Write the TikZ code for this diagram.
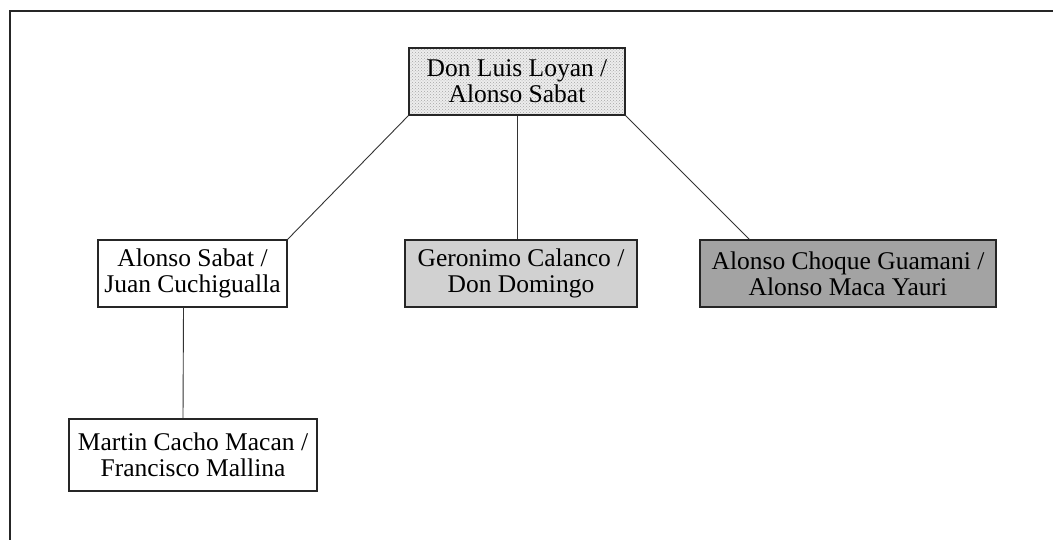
\documentclass[tikz,border=0pt]{standalone}
\usepackage{fontspec}
\setmainfont{Liberation Serif}
\usetikzlibrary{patterns}
\begin{document}
\begin{tikzpicture}[x=1pt,y=-1pt,
    person/.style={draw=black!85, line width=1.1pt, align=center,
      minimum height=67pt, inner sep=4pt,
      font=\fontsize{25.5pt}{26pt}\selectfont},
    speckled/.style={preaction={fill=black!7}, pattern=crosshatch dots, pattern color=black!35},
    lightgray/.style={fill=black!18},
    darkgray/.style={fill=black!36}]
  \useasboundingbox (0,0) rectangle (1053,540);
  \draw[line width=2.4pt, black!85] (10,540) -- (10,11) -- (1053,11);
  \draw
    (517,81.5) node[person, speckled, minimum width=216pt] (loyan) {Don Luis Loyan /\\Alonso Sabat}
    (192.5,273.5) node[person, minimum width=189pt] (sabat) {Alonso Sabat /\\Juan Cuchigualla}
    (521,273.5) node[person, lightgray, minimum width=232pt] (calanco) {Geronimo Calanco /\\Don Domingo}
    (848,273.5) node[person, darkgray, minimum width=296pt] (choque) {Alonso Choque Guamani /\\Alonso Maca Yauri}
    (193,455) node[person, minimum width=248pt, minimum height=72pt] (martin) {Martin Cacho Macan /\\Francisco Mallina};
  \begin{scope}[-, line width=0.9pt, black!80]
    \draw (loyan.south west) to (sabat.north east);
    \draw (loyan.south) to (loyan.south |- calanco.north);
    \draw (loyan.south east) to ([xshift=50pt]choque.north west);
    \draw ([xshift=-9pt]sabat.south) to ([xshift=-10pt]martin.north);
  \end{scope}
\end{tikzpicture}
\end{document}
